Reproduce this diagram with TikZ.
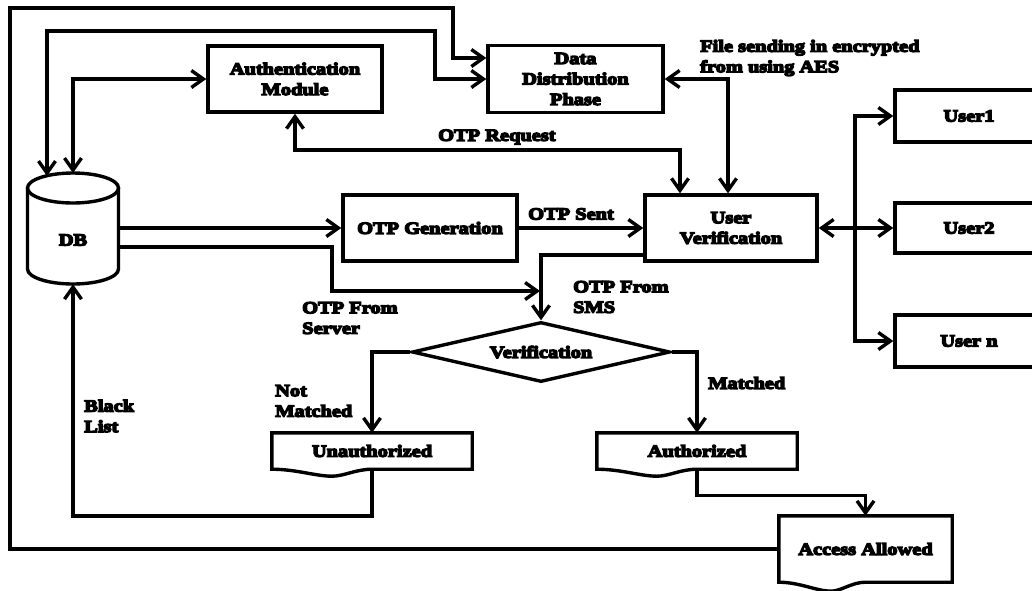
\documentclass[tikz,border=0pt]{standalone}
\usepackage{fontspec}
\newfontfamily\lbl{Liberation Serif}[UprightFont=* Bold, FakeStretch=1.2, FakeBold=8]
\usetikzlibrary{arrows.meta,shapes.geometric,calc}

\tikzset{
  vtip/.tip={Straight Barb[length=12pt,width=17pt]},
  conn/.style={line width=3.4pt, line join=miter},
  arr/.style={conn,-vtip},
  arr2/.style={conn,vtip-vtip},
  box/.style={draw, line width=3.4pt, fill=white, inner sep=0pt, align=center},
  bare/.style={inner sep=0pt, align=center},
  lab/.style={anchor=west, inner sep=0pt, align=left},
  dia/.style={diamond, draw, line width=3.4pt, fill=white, aspect=4.3,
              inner sep=0pt, minimum width=258pt, minimum height=60pt},
}

% outline of a flowchart "document" box: straight top and sides, a dip in the bottom edge
\newcommand\docoutline[2]{%
  \draw[conn] let \p1=(#1.north west), \p2=(#1.south east), \n1={\x2-\x1} in
    (\x1,\y1) -- (\x2,\y1) -- (\x2,\y2) -- ({\x1+0.5*\n1},\y2)
    .. controls ({\x1+0.42*\n1},\y2) and ({\x1+0.36*\n1},{\y2-#2}) .. ({\x1+0.3*\n1},{\y2-#2})
    .. controls ({\x1+0.22*\n1},{\y2-#2}) and ({\x1+0.12*\n1},\y2) .. (\x1,\y2) -- cycle;}

\begin{document}
\begin{tikzpicture}[x=1pt,y=-1pt,font={\lbl\fontsize{17}{20.5}\selectfont}]
\useasboundingbox (0,0) rectangle (1032,590);
\clip (0,0) rectangle (1032,590);

% database cylinder
\draw[conn] (27.5,188) -- (27.5,269) arc[start angle=180, end angle=360, x radius=45.5pt, y radius=15pt] -- (118.5,188);
\draw[conn] (73,188) ellipse [x radius=45.5pt, y radius=15pt];
\node[bare, minimum width=91pt, minimum height=88pt] (db) at (73,240) {DB};
\coordinate (dbA) at (47,176);
\coordinate (dbB) at (73,173);

% process boxes
\node[box, minimum width=174pt, minimum height=66pt] (auth) at (295,79) {Authentication\\Module};
\node[box, minimum width=175pt, minimum height=67pt] (data) at (575.5,79) {Data\\Distribution\\Phase};
\node[box, minimum width=174pt, minimum height=66pt] (gen) at (430,228) {OTP Generation};
\node[box, minimum width=172pt, minimum height=66pt] (uv) at (731,228) {User\\Verification};
\node[dia] (ver) at (541,352) {Verification};

% users
\node[box, minimum width=148pt, minimum height=52pt] (u1) at (969,116) {User1};
\node[box, minimum width=148pt, minimum height=50pt] (u2) at (969,228) {User2};
\node[box, minimum width=148pt, minimum height=52pt] (un) at (969,341) {User n};

% outcome documents
\node[bare, minimum width=200pt, minimum height=36pt] (unauth) at (372,451) {Unauthorized};
\node[bare, minimum width=200pt, minimum height=36pt] (autho) at (697,451) {Authorized};
\node[bare, minimum width=173pt, minimum height=66pt] (access) at (865.5,549) {Access Allowed};
\docoutline{unauth}{7pt}
\docoutline{autho}{7pt}
\docoutline{access}{9pt}

% connectors
\draw[arr] (access.west) -| (10,8) -| (453,58) -- ([yshift=21pt]data.west);
\draw[arr2] (dbA) |- (435,31) |- (data.west);
\draw[arr2] (dbB) |- (auth.west);
\coordinate (reqc) at (680,150);
\draw[arr2] (auth.south) |- (reqc) -- (reqc |- uv.north);
\draw[arr2] (data.east) -| ([xshift=-3pt]uv.north);
\draw[arr] (db.east |- gen.west) -- (gen.west);
\draw[arr] (gen.east) -- (uv.west);
\coordinate (srv) at (332,247);
\coordinate (sms) at (540,291);
\draw[arr] (db.east |- srv) -- (srv) |- (sms);
\draw[arr] ([yshift=-27pt]uv.west) -| (ver.north);
\draw[arr] (ver.west) -| (unauth.north);
\draw[arr] (ver.east) -| (autho.north);
\coordinate (blk) at (73,516);
\draw[arr] (unauth.south) |- (blk) -- (db.south);
\draw[arr] (autho.south) -- ++(0,26) -| (access.north);
\coordinate (bus) at (855,228);
\draw[arr2] (uv.east) -- (u2.west);
\draw[arr] (bus) |- (u1.west);
\draw[arr] (bus) |- (un.west);

% connector labels
\node[lab] (lfile) at (700,58) {File sending in encrypted\\from using AES};
\node[lab] (lreq) at (438,137) {OTP Request};
\node[lab] (lsent) at (528,214) {OTP Sent};
\node[lab] (lsrv) at (302,318) {OTP From\\Server};
\node[lab] (lsms) at (573,297) {OTP From\\SMS};
\node[lab] (lnm) at (275,401) {Not\\Matched};
\node[lab] (lblk) at (84,416) {Black\\List};
\node[lab] (lm) at (708,383) {Matched};
\end{tikzpicture}
\end{document}
